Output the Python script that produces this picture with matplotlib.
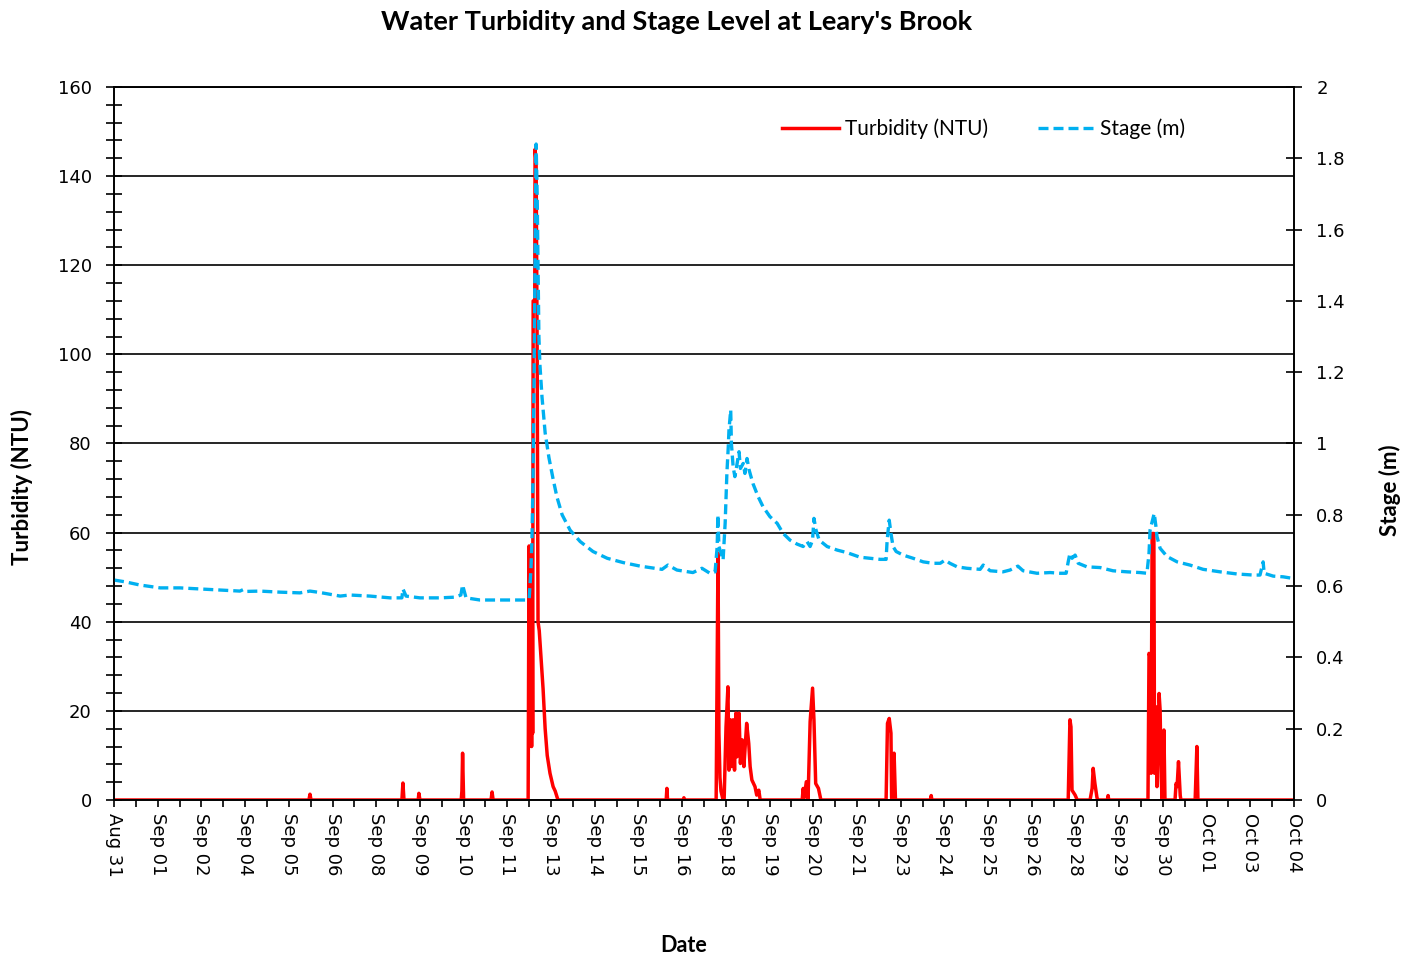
import matplotlib
matplotlib.use("Agg")
import matplotlib.pyplot as plt
import matplotlib.dates as mdates
from matplotlib.ticker import MultipleLocator, FixedLocator, FuncFormatter
from datetime import datetime, timedelta

# time is in days after Aug 31 00:00
stage_days = [0.46, 0.78, 1.21, 1.79, 2.36, 2.94, 3.52, 4.09, 4.18, 4.25, 4.67, 5.25,
              5.82, 6.11, 6.40, 6.98, 7.26, 7.84, 8.42, 8.76, 8.79, 8.88, 9.28, 9.86,
              10.29, 10.46, 10.51, 10.61, 11.01, 11.59, 12.37, 12.43, 12.48, 12.51,
              12.54, 12.57, 12.60, 12.63, 12.66, 12.69, 12.71, 12.74, 12.80, 12.89,
              13.00, 13.12, 13.23, 13.38, 13.61, 13.90, 14.27, 14.68, 15.14, 15.63,
              16.06, 16.26, 16.43, 16.69, 17.15, 17.41, 17.64, 17.79, 17.85, 17.87,
              17.90, 17.96, 18.02, 18.08, 18.13, 18.17, 18.19, 18.24, 18.26, 18.31,
              18.36, 18.41, 18.48, 18.52, 18.60, 18.65, 18.71, 18.77, 18.88, 19.03,
              19.17, 19.37, 19.58, 19.75, 19.95, 20.15, 20.33, 20.38, 20.44, 20.53,
              20.60, 20.64, 20.70, 20.79, 21.02, 21.31, 21.59, 21.97, 22.26, 22.55,
              22.72, 22.75, 22.81, 22.86, 22.92, 23.01, 23.21, 23.50, 23.79, 24.07,
              24.28, 24.42, 24.56, 24.77, 25.05, 25.43, 25.52, 25.72, 26.09, 26.29,
              26.52, 26.67, 27.07, 27.45, 27.74, 27.91, 27.97, 28.02, 28.08, 28.17,
              28.26, 28.51, 28.89, 29.26, 29.67, 30.04, 30.24, 30.30, 30.33, 30.39,
              30.45, 30.50, 30.53, 30.62, 30.82, 31.11, 31.48, 31.86, 32.35, 32.84,
              33.30, 33.50, 33.59, 33.62, 33.88, 34.17, 34.48]
stage_m = [0.617, 0.612, 0.603, 0.595, 0.595, 0.592, 0.589, 0.586, 0.590, 0.585, 0.586, 0.583,
           0.581, 0.586, 0.582, 0.572, 0.575, 0.572, 0.567, 0.567, 0.592, 0.572, 0.567, 0.567,
           0.569, 0.575, 0.603, 0.567, 0.561, 0.561, 0.561, 0.565, 0.645, 0.73,
           0.90, 1.18, 1.54, 1.84, 1.70, 1.45, 1.30, 1.22, 1.13, 1.03,
           0.96, 0.90, 0.85, 0.80, 0.757, 0.725, 0.697, 0.678, 0.666, 0.656,
           0.650, 0.647, 0.659, 0.645, 0.638, 0.650, 0.636, 0.640, 0.711, 0.80,
           0.711, 0.693, 0.673, 0.777, 0.917, 0.991, 1.038, 1.094, 1.00, 0.935,
           0.907, 0.935, 0.977, 0.930, 0.944, 0.916, 0.958, 0.926, 0.888, 0.851,
           0.823, 0.795, 0.776, 0.748, 0.729, 0.718, 0.711, 0.720, 0.725, 0.711,
           0.729, 0.790, 0.757, 0.729, 0.711, 0.701, 0.694, 0.681, 0.678, 0.675,
           0.675, 0.729, 0.785, 0.748, 0.711, 0.697, 0.687, 0.678, 0.668, 0.664,
           0.664, 0.673, 0.664, 0.654, 0.650, 0.647, 0.659, 0.643, 0.640, 0.645,
           0.656, 0.643, 0.636, 0.638, 0.636, 0.636, 0.668, 0.692, 0.678, 0.687,
           0.664, 0.654, 0.652, 0.643, 0.640, 0.638, 0.636, 0.692, 0.757, 0.781,
           0.804, 0.767, 0.739, 0.706, 0.683, 0.668, 0.659, 0.647, 0.640, 0.634,
           0.631, 0.631, 0.668, 0.636, 0.628, 0.626, 0.621]

turb_days = [0.46, 6.08, 6.11, 6.14, 8.76, 8.79, 8.82, 9.23, 9.25, 9.28,
             10.47, 10.49, 10.51, 10.54, 11.33, 11.36, 11.39,
             12.40, 12.425, 12.44, 12.455, 12.47, 12.485, 12.50, 12.515, 12.53,
             12.545, 12.59, 12.60, 12.63, 12.66, 12.685, 12.72, 12.77, 12.83,
             12.89, 12.95, 13.03, 13.12, 13.18, 13.26,
             16.38, 16.40, 16.42, 16.87, 16.89, 16.92,
             17.82, 17.85, 17.874, 17.90, 17.93, 17.96, 18.02, 18.05, 18.105, 18.16,
             18.19, 18.23, 18.27, 18.31, 18.35, 18.39, 18.42, 18.48, 18.52, 18.57,
             18.62, 18.70, 18.76, 18.80, 18.85, 18.94, 18.99, 19.05, 19.09,
             20.30, 20.33, 20.36, 20.42, 20.47, 20.53, 20.60, 20.64, 20.69, 20.77, 20.84,
             22.72, 22.76, 22.81, 22.86, 22.88, 22.92, 22.95, 22.99,
             24.00, 24.02, 24.04,
             27.97, 28.02, 28.05, 28.08, 28.17, 28.23,
             28.60, 28.66, 28.69, 28.74, 28.80, 28.83, 29.10, 29.12, 29.14,
             30.27, 30.30, 30.33, 30.36, 30.39, 30.44, 30.46, 30.50, 30.53, 30.59,
             30.62, 30.65, 30.68, 30.73, 30.76,
             31.05, 31.08, 31.11, 31.15, 31.20, 31.22, 31.63, 31.68, 31.71, 34.48]
turb_ntu = [0, 0, 1.3, 0, 0, 3.8, 0, 0, 1.5, 0,
            0, 2, 10.5, 0, 0, 1.8, 0,
            0, 57, 12, 55, 14, 57, 12, 55, 15,
            112, 112, 146, 143, 100, 40, 38, 32, 25,
            16, 10, 6, 3, 2, 0,
            0, 2.6, 0, 0, 0.5, 0,
            0, 30, 55.4, 15, 5, 2, 0, 0, 16.4, 25.4,
            6.7, 18, 7.5, 18, 6.7, 19.5, 9.7, 19.5, 8.2, 13.5,
            7.5, 17.2, 12.7, 7.5, 4.5, 3, 1.1, 2.2, 0,
            0, 2.6, 0.5, 4.1, 0.3, 17.6, 25.1, 18, 3.7, 2.6, 0,
            0, 17.2, 18.3, 15, 0, 0, 10.5, 0,
            0, 1, 0,
            0, 18, 16.4, 2.2, 1.1, 0,
            0, 2.6, 7.1, 3.7, 0.5, 0, 0, 1, 0,
            0, 32.9, 32.2, 6, 59.8, 59.8, 6, 20.9, 3, 23.9,
            20.2, 5.2, 0, 15.7, 0,
            0, 3.7, 3, 8.6, 1, 0, 0, 12, 0, 0]

base = datetime(2014, 8, 31)
stage_t = [base + timedelta(days=d) for d in stage_days]
turb_t = [base + timedelta(days=d) for d in turb_days]

# date axis as Excel laid it out: 27 steps of 1.26 days
x_ticks = [mdates.date2num(base + timedelta(days=0.46 + 1.26 * k)) for k in range(28)]
x_minor = [(a + b) / 2 for a, b in zip(x_ticks[:-1], x_ticks[1:])]

W, H = 1417, 955
fig = plt.figure(figsize=(W / 100, H / 100), dpi=100)
ax = fig.add_axes([114 / W, 1 - 800 / H, 1180 / W, 713 / H])
ax2 = ax.twinx()

l1, = ax.plot(turb_t, turb_ntu, color="#FF0000", lw=2.5, label="Turbidity (NTU)")
l2, = ax2.plot(stage_t, stage_m, color="#00B0F0", lw=2.4, ls=(0, (3, 1.5)),
               label="Stage (m)")

ax.set_xlim(x_ticks[0], x_ticks[-1])
ax.xaxis.set_major_locator(FixedLocator(x_ticks))
ax.xaxis.set_minor_locator(FixedLocator(x_minor))
ax.xaxis.set_major_formatter(mdates.DateFormatter("%b %d"))

ax.set_ylim(0, 160)
ax.yaxis.set_major_locator(MultipleLocator(20))
ax.yaxis.set_minor_locator(MultipleLocator(4))
ax2.set_ylim(0, 2)
ax2.yaxis.set_major_locator(MultipleLocator(0.2))
ax2.yaxis.set_major_formatter(FuncFormatter(lambda v, p: f"{v:g}"))

ax.grid(axis="y", which="major", color="black", lw=1.2)
ax.set_axisbelow(True)

for a in (ax, ax2):
    for s in a.spines.values():
        s.set_color("black")
        s.set_linewidth(1.2)

ax.tick_params(axis="y", which="major", direction="inout", length=12, width=1.2,
               labelsize=13, pad=10)
ax.tick_params(axis="y", which="minor", direction="inout", length=11, width=1.2)
ax2.tick_params(axis="y", direction="inout", length=12, width=1.2, labelsize=13, pad=10)
ax.tick_params(axis="x", which="both", direction="out", length=5, width=1.2,
               labelsize=13, labelrotation=270, pad=4)
for lab in ax.get_xticklabels() + ax.get_yticklabels() + ax2.get_yticklabels():
    lab.set_family("DejaVu Sans")

fig.text(677 / W, 1 - 22 / H, "Water Turbidity and Stage Level at Leary's Brook",
         ha="center", va="center", fontsize=19.5, fontweight="bold", family="Lato")
fig.text(22 / W, 1 - 487 / H, "Turbidity (NTU)", rotation=90, ha="center", va="center",
         fontsize=16, fontweight="bold", family="Lato")
fig.text(1390 / W, 1 - 490 / H, "Stage (m)", rotation=90, ha="center", va="center",
         fontsize=16, fontweight="bold", family="Lato")
fig.text(684 / W, 1 - 945 / H, "Date", ha="center", va="center",
         fontsize=15.5, fontweight="bold", family="Lato")

fig.legend([l1, l2], ["Turbidity (NTU)", "Stage (m)"], loc="center",
           bbox_to_anchor=(984 / W, 1 - 129 / H), ncol=2, frameon=False,
           prop={"family": "Lato", "size": 15}, handlelength=2.7,
           columnspacing=2.4, handletextpad=0.3)

fig.savefig("out.png", dpi=100)
